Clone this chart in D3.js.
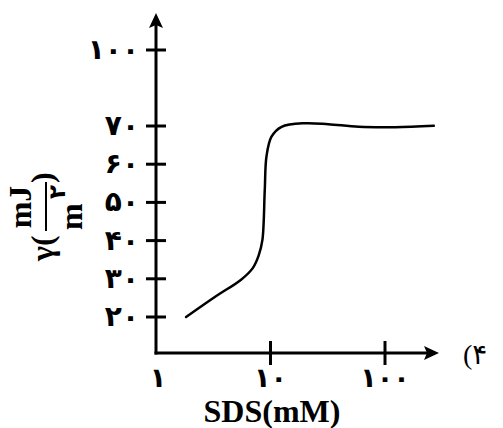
<!DOCTYPE html>
<html>
<head>
<meta charset="utf-8">
<script src="https://cdn.jsdelivr.net/npm/d3@7"></script>
<style>
  body { margin: 0; background: #fff; }
  text { font-family: "Liberation Serif", "DejaVu Sans", serif; font-weight: bold; fill: #000; }
</style>
</head>
<body>
<div id="plotarea"></div>
<script>
// curve: SDS concentration (mM) vs surface tension
var sds   = [1.83, 3.36, 5.5, 7.0, 7.9, 8.5, 8.91, 9.22, 10.2, 12.5, 20, 32, 59, 123, 267];
var gamma = [20, 25.5, 29.7, 32.8, 36.2, 40.2, 53.2, 62, 67.2, 69.8, 71.1, 70.7, 69.8, 69.7, 70.1];

var yTicks = [20, 30, 40, 50, 60, 70, 100];
var yTickLabels = ["۲۰", "۳۰", "۴۰", "۵۰", "۶۰", "۷۰", "۱۰۰"];
var xTicks = [1, 10, 100];
var xTickLabels = ["۱", "۱۰", "۱۰۰"];

var width = 503, height = 428;

var svg = d3.select("#plotarea")
  .append("svg")
    .attr("width", width)
    .attr("height", height);

// log x axis, broken y axis (jump between 70 and 100)
var x = d3.scaleLog().domain([1, 100]).range([156, 385]);
var y = d3.scaleLinear().domain([20, 70, 100]).range([317, 126, 50]);

var x0 = 156, y0 = 353;

// axes lines
svg.append("line")
  .attr("x1", x0).attr("y1", y0 + 1.5)
  .attr("x2", x0).attr("y2", 24)
  .attr("stroke", "#000").attr("stroke-width", 3);
svg.append("line")
  .attr("x1", x0 - 1.5).attr("y1", y0)
  .attr("x2", 428).attr("y2", y0)
  .attr("stroke", "#000").attr("stroke-width", 3);

// arrow heads
svg.append("path")
  .attr("d", "M" + x0 + ",13 L" + (x0 + 7) + ",28 L" + x0 + ",25 L" + (x0 - 7) + ",28 Z")
  .attr("fill", "#000");
svg.append("path")
  .attr("d", "M439," + y0 + " L424," + (y0 - 7) + " L427," + y0 + " L424," + (y0 + 7) + " Z")
  .attr("fill", "#000");

// y ticks
svg.append("g")
  .selectAll("line")
  .data(yTicks)
  .enter()
  .append("line")
    .attr("x1", x0 - 10).attr("x2", x0 + 10)
    .attr("y1", function (d) { return y(d); })
    .attr("y2", function (d) { return y(d); })
    .attr("stroke", "#000").attr("stroke-width", 3);

svg.append("g")
  .selectAll("text")
  .data(yTicks)
  .enter()
  .append("text")
    .attr("x", 139)
    .attr("y", function (d) { return y(d); })
    .attr("dy", "0.32em")
    .attr("text-anchor", "end")
    .style("font-size", "28px")
    .style("direction", "ltr")
    .text(function (d, i) { return yTickLabels[i]; });

// x ticks (1 sits on the origin, no tick mark)
svg.append("g")
  .selectAll("line")
  .data(xTicks.slice(1))
  .enter()
  .append("line")
    .attr("x1", function (d) { return x(d); })
    .attr("x2", function (d) { return x(d); })
    .attr("y1", y0 - 12).attr("y2", y0 + 12)
    .attr("stroke", "#000").attr("stroke-width", 3);

svg.append("g")
  .selectAll("text")
  .data(xTicks)
  .enter()
  .append("text")
    .attr("x", function (d) { return x(d) + (d == 1 ? 2 : 0); })
    .attr("y", 387)
    .attr("text-anchor", "middle")
    .style("font-size", "27px")
    .style("direction", "ltr")
    .text(function (d, i) { return xTickLabels[i]; });

// x label
svg.append("text")
  .attr("x", 272)
  .attr("y", 422)
  .attr("text-anchor", "middle")
  .style("font-size", "32px")
  .text("SDS(mM)");

// option number at right
svg.append("text")
  .attr("x", 463)
  .attr("y", 364)
  .style("font-size", "28px")
  .style("font-weight", "normal")
  .style("direction", "ltr")
  .text("(۴");

// y label: gamma(mJ / m^2) rotated
var yl = svg.append("g")
  .attr("transform", "translate(48,210) rotate(-90)");
yl.append("text")
  .attr("x", -51).attr("y", 5)
  .style("font-size", "32px")
  .text("γ(");
yl.append("text")
  .attr("x", 3).attr("y", -17)
  .attr("text-anchor", "middle")
  .style("font-size", "32px")
  .text("mJ");
yl.append("line")
  .attr("x1", -21).attr("x2", 28)
  .attr("y1", -2).attr("y2", -2)
  .attr("stroke", "#000").attr("stroke-width", 2);
yl.append("text")
  .attr("x", -20).attr("y", 34)
  .style("font-size", "32px")
  .text("m");
yl.append("text")
  .attr("x", 11).attr("y", 17)
  .style("font-size", "23px")
  .style("direction", "ltr")
  .text("۲");
yl.append("text")
  .attr("x", 27).attr("y", 5)
  .style("font-size", "32px")
  .text(")");

// the curve
var data = sds.map(function (d, i) { return {c: d, g: gamma[i]}; });
svg.append("path")
  .datum(data)
  .attr("fill", "none")
  .attr("stroke", "#000")
  .attr("stroke-width", 2.5)
  .attr("stroke-linecap", "round")
  .attr("d", d3.line()
    .curve(d3.curveCatmullRom.alpha(0.5))
    .x(function (d) { return x(d.c); })
    .y(function (d) { return y(d.g); }));
</script>
</body>
</html>
